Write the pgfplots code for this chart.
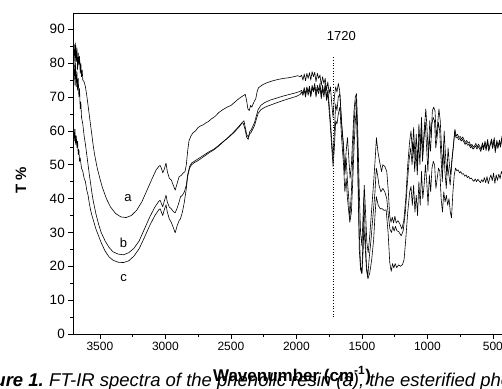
\documentclass[border=0pt]{standalone}
\usepackage{fontspec}
\setmainfont{Liberation Sans}
\usepackage{pgfplots}
\pgfplotsset{compat=1.18}
\begin{document}
\begin{tikzpicture}
\path[use as bounding box] (0,0) rectangle (502pt,388pt);
\clip (0,0) rectangle (502pt,388pt);
\begin{axis}[at={(73pt,54pt)}, anchor=south west, scale only axis,
  width=433pt, height=320.9pt, x dir=reverse,
  xmin=400, xmax=3705, ymin=0, ymax=94.8,
  xtick={500,1000,...,3500}, minor x tick num=1,
  ytick={0,10,...,90}, minor y tick num=1,
  tick align=outside, tick pos=left,
  major tick length=5pt, minor tick length=3pt,
  axis line style={line width=0.8pt}, every tick/.style={line width=0.7pt, black},
  /pgf/number format/assume math mode=true, /pgf/number format/1000 sep={},
  xticklabel style={font=\fontsize{12}{14}\selectfont},
  yticklabel style={font=\fontsize{13.5}{15}\selectfont, xshift=0.3pt},
  clip=true]
\addplot[black, line width=0.6pt, line join=round] coordinates {(3700,82)(3695,85.5)(3690,79)(3685,86)(3680,80.5)(3675,84.5)(3670,78)(3665,83)(3660,79.5)(3655,82)(3650,77)(3645,80)(3640,76)(3635,78)(3630,75)(3620,74.5)(3610,73)(3600,70.5)(3590,67.5)(3580,64.5)(3570,61.5)(3560,58.5)(3550,55.5)(3540,53)(3520,49)(3500,46)(3480,43.2)(3450,40)(3420,37.6)(3380,35.6)(3340,34.6)(3300,34.4)(3260,35)(3220,36.5)(3180,39)(3140,42.5)(3100,46)(3070,48.5)(3050,49.5)(3040,49.8)(3030,49)(3020,47.6)(3010,48.5)(2995,50.5)(2985,48)(2970,46)(2955,45.5)(2940,44)(2925,42.5)(2910,44.5)(2895,46.5)(2880,46.8)(2865,47.5)(2850,48)(2840,50)(2830,54)(2820,57)(2805,58.5)(2790,59.4)(2770,60)(2750,61)(2730,61.5)(2710,61.8)(2690,62.4)(2670,62.8)(2650,63.5)(2620,64.3)(2590,65.5)(2560,66.3)(2530,67)(2500,67.5)(2470,68.5)(2440,69.5)(2410,70.3)(2390,70.8)(2380,69)(2370,66.5)(2360,66)(2350,67.5)(2340,67)(2330,68)(2320,68.8)(2310,69.5)(2300,71.5)(2290,72.7)(2270,73.3)(2250,73.8)(2220,74.3)(2180,74.8)(2140,75.2)(2100,75.5)(2060,75.7)(2020,76)(1990,76.3)(1970,76)(1960,76.5)(1950,75)(1940,76.8)(1930,74.8)(1920,77)(1910,75.5)(1900,77.2)(1890,75)(1880,77.5)(1870,76)(1860,77.3)(1850,74.5)(1840,77)(1830,75.5)(1820,76.5)(1810,73.5)(1800,76)(1790,74)(1780,75.5)(1770,72)(1760,74.5)(1750,71)(1740,73)(1730,68)(1720,64)(1710,70)(1700,73)(1690,71.5)(1680,74)(1670,72)(1660,66)(1650,60)(1640,54)(1630,48)(1620,54)(1610,58)(1600,52)(1590,46)(1580,50)(1570,58)(1560,66)(1550,70)(1541,71)(1530,58)(1520,42)(1510,30)(1500,26)(1490,36)(1482,44)(1472,36)(1462,27)(1452,24)(1440,29)(1425,37)(1410,45)(1398,52)(1389,58)(1378,54)(1365,51)(1350,48)(1340,50)(1325,49.5)(1310,48)(1298,42)(1288,35)(1278,33)(1268,34.5)(1258,32.8)(1248,34.8)(1238,32.8)(1225,33.5)(1210,32.5)(1195,31)(1180,33.5)(1165,40)(1150,50)(1135,57)(1125,60)(1115,54)(1105,61)(1095,52)(1085,59)(1075,50)(1065,62)(1055,55)(1045,64)(1035,53)(1025,60)(1012,66.5)(1002,60)(992,52)(982,63)(972,58)(962,66)(952,67)(942,66)(932,58)(922,62)(912,66.5)(902,63)(892,55)(882,49)(872,60)(862,53)(852,47)(842,55)(832,50)(822,47)(812,52)(800,56)(790,60.5)(780,58.5)(770,59)(760,58)(750,58.4)(740,57.6)(730,58.2)(720,57.3)(710,56.6)(700,57.2)(690,56.4)(680,56.8)(670,55.6)(660,56)(650,55.2)(640,55.6)(630,56.3)(620,55.2)(610,56.1)(600,55.4)(590,54.5)(580,56.5)(570,55)(560,57)(550,54.8)(540,57.5)(530,54.6)(520,56.2)(510,57.6)(500,55.4)(490,58)(480,54.2)(470,57.2)(460,55.4)(450,57.3)(440,55.8)(430,58.5)(420,57)};
\addplot[black, line width=0.6pt, line join=round] coordinates {(3700,76)(3695,79.5)(3690,73.5)(3685,80)(3680,73)(3675,77.5)(3670,72)(3665,75.5)(3660,70)(3655,72.5)(3650,66.5)(3645,68.5)(3640,64)(3630,62)(3620,58.5)(3610,56)(3600,53)(3590,50)(3580,47)(3570,44.3)(3560,41.5)(3550,39.2)(3530,35.5)(3510,32.5)(3490,30)(3460,27.5)(3430,25.6)(3400,24.3)(3360,23.6)(3320,23.4)(3280,24)(3240,25.3)(3200,27.5)(3160,31)(3120,34.5)(3080,37.5)(3050,39.2)(3040,39.5)(3030,38.5)(3020,37.6)(3010,39)(2995,41)(2985,39)(2970,37.5)(2955,37)(2940,36.2)(2925,35.8)(2910,37.2)(2895,39)(2885,40.5)(2870,41)(2855,42)(2840,44)(2830,47)(2815,49.5)(2800,50.5)(2780,51)(2760,51.5)(2740,52)(2700,53)(2660,54)(2630,54.6)(2600,55.5)(2560,56.8)(2520,58)(2480,59.4)(2440,61)(2410,62.6)(2400,63)(2390,61)(2378,58.8)(2366,58.2)(2356,59.8)(2345,60.3)(2332,61.4)(2320,62.4)(2305,64.5)(2292,66.3)(2270,67.6)(2240,68.4)(2200,69.1)(2150,69.7)(2100,70.3)(2050,70.8)(2000,71.3)(1970,71.7)(1960,72)(1950,71)(1940,72.8)(1930,70.8)(1920,73)(1910,71.5)(1900,73.2)(1890,70.5)(1880,73.5)(1870,72)(1860,74)(1850,71)(1840,73.5)(1830,72)(1820,74)(1810,70.5)(1800,73.5)(1790,71)(1780,74)(1770,70)(1760,72)(1750,68)(1740,63)(1730,57)(1720,52)(1710,60)(1700,68)(1690,66)(1680,70)(1668,71)(1655,62)(1640,56)(1630,47)(1620,52)(1610,45)(1600,40)(1592,34)(1580,42)(1570,52)(1560,62)(1550,68)(1541,69.5)(1530,50)(1520,30)(1510,20)(1500,18)(1490,30)(1484,40)(1475,30)(1465,20)(1455,17)(1445,22)(1430,28)(1415,35)(1400,42)(1390,49)(1380,47)(1370,44)(1355,42)(1340,43)(1325,42)(1310,40)(1298,35)(1286,31)(1274,30)(1264,31.8)(1254,30.4)(1244,31.8)(1232,30.5)(1218,30.2)(1200,29)(1185,30.5)(1168,36)(1152,45)(1138,52)(1127,55)(1117,50)(1107,56.5)(1097,48)(1087,54)(1077,47)(1067,57)(1057,50)(1047,60.5)(1037,51)(1027,57)(1016,62.5)(1006,55)(996,48)(986,58.5)(976,54)(966,62)(956,64)(946,63)(936,55)(926,58)(916,62.5)(906,60)(896,52)(886,45)(876,56)(866,48)(856,43)(846,50)(836,47)(826,44)(815,50)(803,55)(792,59.8)(782,58)(772,58.2)(762,57.4)(752,57.8)(742,57)(732,57.5)(722,56.8)(712,56)(702,56.5)(692,55.7)(682,56.1)(672,55)(662,55.4)(652,54.6)(642,55)(632,55.6)(622,54.6)(612,55.4)(602,54.8)(592,53.9)(582,55.8)(572,54.4)(562,56.3)(552,54.2)(542,56.8)(532,54)(522,55.5)(512,57)(502,54.8)(492,57.3)(482,53.6)(472,56.5)(462,54.8)(452,56.6)(442,55.2)(432,57.8)(422,56.5)};
\addplot[black, line width=0.6pt, line join=round] coordinates {(3700,61)(3695,57)(3690,60.5)(3685,56)(3680,58.5)(3675,55)(3670,57)(3665,53)(3660,54.5)(3655,51)(3650,52)(3640,49)(3630,48)(3620,46)(3610,45)(3600,42.5)(3590,41)(3580,38.5)(3570,36.5)(3560,35)(3545,33)(3530,31)(3510,29)(3490,27)(3460,24.5)(3430,22.8)(3400,21.8)(3360,21.2)(3320,21.1)(3280,21.6)(3240,23)(3200,25.2)(3160,28.5)(3120,32)(3080,35)(3050,36.7)(3040,37)(3030,36)(3020,35)(3010,36.5)(2995,38.2)(2985,36)(2970,34)(2955,33)(2940,31.5)(2925,29.9)(2910,32)(2895,33.5)(2885,34)(2870,36)(2855,39)(2840,43)(2830,46.5)(2815,49)(2800,50)(2780,50.6)(2760,51)(2740,51.5)(2700,52.6)(2660,53.7)(2630,54.4)(2600,55.3)(2560,56.7)(2520,58.1)(2480,59.6)(2440,61.3)(2415,62.4)(2405,62.2)(2392,60.5)(2380,58.2)(2368,57.5)(2358,59)(2345,59.6)(2332,60.6)(2320,61.5)(2305,63.5)(2292,65.2)(2270,66.3)(2240,67)(2200,67.6)(2150,68.3)(2100,69)(2050,69.6)(2000,70.2)(1970,70.8)(1960,71.5)(1950,70.5)(1940,72)(1930,70)(1920,72.5)(1910,70.5)(1900,72.5)(1890,70)(1880,72.8)(1870,71.5)(1860,73)(1850,70)(1840,72.5)(1830,71)(1820,73)(1810,69.5)(1800,72.5)(1790,70)(1780,73)(1770,69)(1760,71)(1750,66)(1740,61)(1730,55)(1720,49.5)(1710,55)(1700,63)(1690,62)(1680,65)(1668,67)(1655,58)(1640,50)(1630,42)(1620,46)(1610,40)(1600,36)(1592,33)(1580,36)(1570,45)(1560,55)(1550,63)(1541,66)(1530,45)(1520,25)(1510,19)(1500,17.8)(1490,25)(1485,32)(1475,26)(1465,19)(1454,16.3)(1440,18)(1425,22)(1410,28)(1400,35)(1390,40.6)(1375,38)(1360,37)(1345,37)(1330,36.5)(1315,36.7)(1300,30)(1287,21)(1276,18.5)(1266,20.8)(1256,19.5)(1246,20.8)(1234,19.6)(1220,20.4)(1205,20)(1190,20.5)(1178,22)(1165,28)(1150,36)(1135,42)(1125,43.6)(1115,38)(1105,44)(1095,36)(1085,41)(1075,35)(1065,45)(1055,38)(1045,48)(1035,40)(1025,44)(1015,50)(1005,45)(995,38)(985,47)(975,42)(965,49)(955,51)(945,50)(935,43)(925,46)(915,49)(905,48)(895,40)(885,36)(875,42)(865,39)(855,41)(845,38)(835,40)(825,36)(816,34.3)(805,42)(795,47)(785,49)(775,48.2)(765,48.5)(755,47.6)(745,48)(735,47.2)(725,47.4)(715,46.6)(705,47)(695,46.2)(685,46.6)(675,45.8)(665,46.1)(655,45.5)(645,45.1)(635,45.8)(625,45)(615,45.7)(605,45.2)(595,44.7)(585,45.6)(575,44.9)(565,46.2)(555,44.7)(545,46.5)(535,44.4)(525,46)(515,47)(505,45.3)(495,47.5)(485,44.5)(475,47)(465,45.4)(455,47.2)(445,45.9)(435,48)(425,47)};
\addplot[black, line width=0.7pt, dotted] coordinates {(1720,5)(1720,81.7)};
\node[font=\fontsize{13}{15}\selectfont] at (axis cs:3286,40.3) {a};
\node[font=\fontsize{13}{15}\selectfont] at (axis cs:3319,26.8) {b};
\node[font=\fontsize{13}{15}\selectfont] at (axis cs:3319,16.5) {c};
\node[font=\fontsize{13}{15}\selectfont] at (axis cs:1656,88) {1720};
\end{axis}
\node[anchor=base east, inner sep=0pt, font=\fontsize{18.5}{21}\selectfont\bfseries\itshape] at (44pt,2pt) {Figure 1.};
\node[anchor=base west, inner sep=0pt, font=\fontsize{18.5}{21}\selectfont\itshape] at (49pt,2pt) {FT-IR spectra of the phenolic resin (a), the esterified phenolic resin (b) and (c)};
\node[anchor=base, inner sep=0pt, font=\fontsize{17}{19}\selectfont\bfseries] at (292pt,7pt) {Wavenumber (cm\textsuperscript{-1})};
\node[rotate=90, inner sep=0pt, font=\fontsize{15}{17}\selectfont\bfseries] at (21pt,208pt) {T \%};
\end{tikzpicture}
\end{document}
